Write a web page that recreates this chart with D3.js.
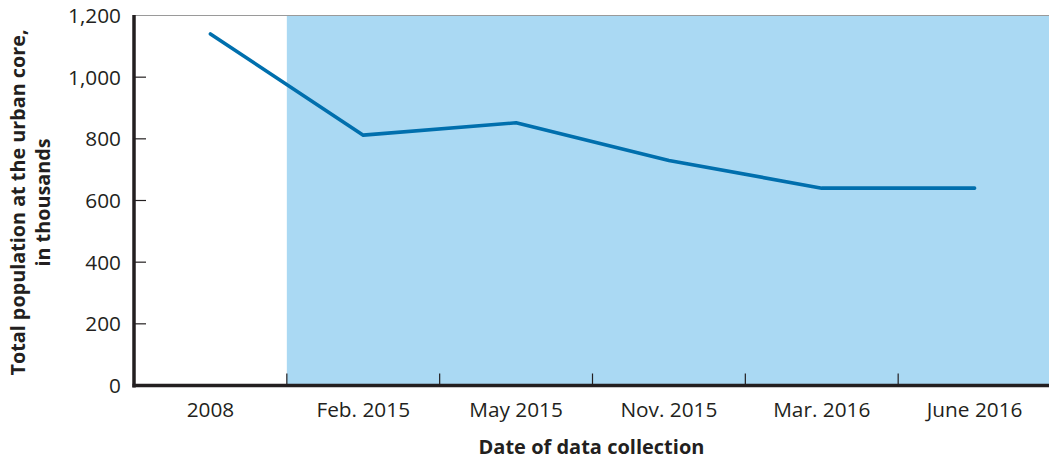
<!DOCTYPE html>
<html><head><meta charset="utf-8">
<script src="https://cdn.jsdelivr.net/npm/d3@7"></script>
<style>body{margin:0;background:#fff}svg{display:block}text{font-family:"Open Sans",sans-serif;fill:#231f20}</style>
</head><body><svg id="c" width="1049" height="460"></svg>
<script>
const categories = ["2008","Feb. 2015","May 2015","Nov. 2015","Mar. 2016","June 2016"];
const values = [1140, 812, 852, 730, 640, 640];
const yTicks = [0,200,400,600,800,1000,1200];
const shadedFrom = "Feb. 2015";

const svg = d3.select("#c");
const L = 134, R = 1051, T = 15.5, B = 385.5;
const x = d3.scaleBand().domain(categories).range([L, R]);
const y = d3.scaleLinear().domain([0,1200]).range([B, T]);

// shaded region
svg.append("rect").attr("x", x(shadedFrom)).attr("y", y(1200))
  .attr("width", R - x(shadedFrom)).attr("height", y(0)-y(1200)).attr("fill", "#aad9f3");
// top border
svg.append("line").attr("x1", L).attr("x2", 1049).attr("y1", y(1200)).attr("y2", y(1200))
  .attr("stroke", "#9a9a9a").attr("stroke-width", 1);

// y ticks (inward)
const gy = svg.append("g");
yTicks.forEach(t => {
  if (t > 0 && t < 1200) gy.append("line").attr("x1", L).attr("x2", L+12).attr("y1", y(t)).attr("y2", y(t)).attr("stroke", "#231f20").attr("stroke-width", 1.2);
  gy.append("text").attr("x", 121).attr("y", y(t)).attr("dy", "0.36em").attr("text-anchor", "end")
    .attr("font-size", 20.8).text(d3.format(",")(t));
});
// x ticks at band boundaries
categories.slice(1).forEach(c => {
  svg.append("line").attr("x1", x(c)).attr("x2", x(c)).attr("y1", B).attr("y2", B-12).attr("stroke", "#231f20").attr("stroke-width", 1.2);
});
categories.forEach(c => {
  svg.append("text").attr("x", x(c)+x.bandwidth()/2).attr("y", 417).attr("text-anchor", "middle")
    .attr("font-size", 20.8).text(c);
});

// line
const line = d3.line().x((d,i)=>x(categories[i])+x.bandwidth()/2).y(d=>y(d));
svg.append("path").datum(values).attr("d", line).attr("fill", "none")
  .attr("stroke", "#006fad").attr("stroke-width", 3.6).attr("stroke-linecap", "round").attr("stroke-linejoin", "round");

// axes lines
svg.append("line").attr("x1", L).attr("x2", L).attr("y1", T-0.5).attr("y2", B+2).attr("stroke", "#231f20").attr("stroke-width", 3.5);
svg.append("line").attr("x1", L-1.5).attr("x2", 1049).attr("y1", B).attr("y2", B).attr("stroke", "#231f20").attr("stroke-width", 3.5);

// titles
svg.append("text").attr("x", (L+1049)/2).attr("y", 454).attr("text-anchor", "middle")
  .attr("font-size", 20).attr("font-weight", "bold").text("Date of data collection");
const yt = svg.append("text").attr("transform", `translate(0,${(T+B)/2+2}) rotate(-90)`)
  .attr("text-anchor", "middle").attr("font-size", 19.8).attr("font-weight", "bold");
yt.append("tspan").attr("x", 0).attr("y", 25).text("Total population at the urban core,");
yt.append("tspan").attr("x", 0).attr("y", 50).text("in thousands");
</script></body></html>
